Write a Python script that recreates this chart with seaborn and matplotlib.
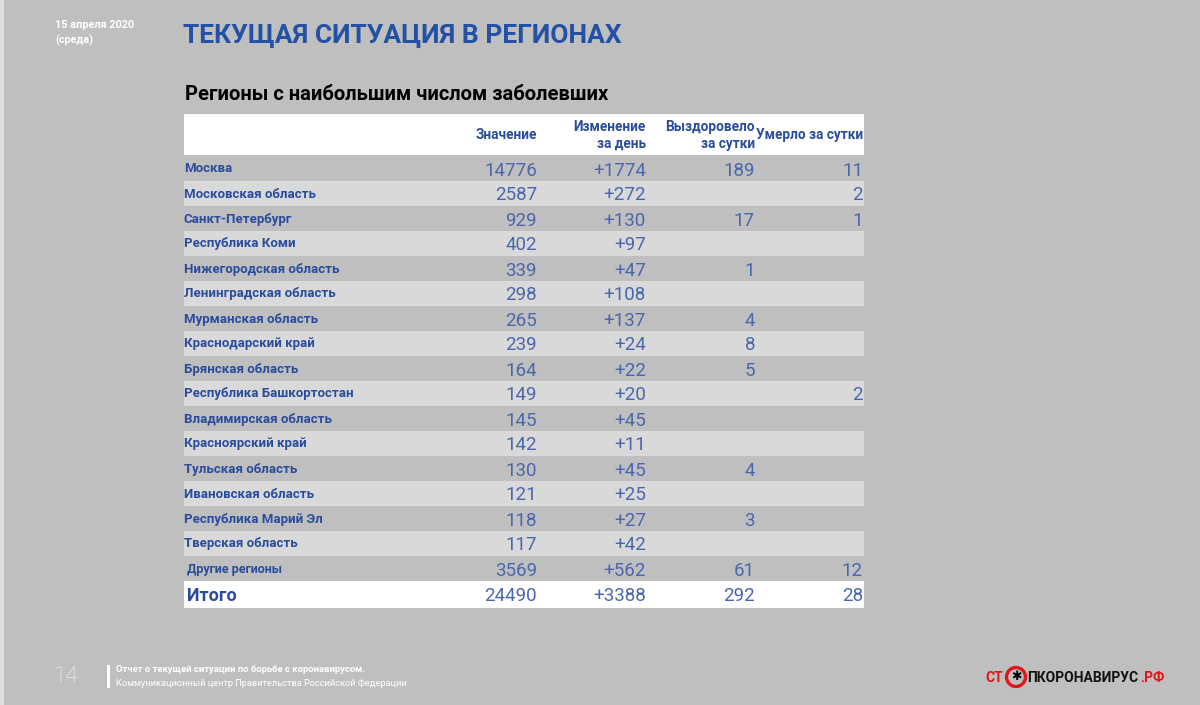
import numpy as np
import pandas as pd
import matplotlib
matplotlib.use("Agg")
import matplotlib.pyplot as plt
from matplotlib.colors import ListedColormap
from matplotlib.patches import Rectangle, Ellipse
import matplotlib.transforms as mtransforms
import seaborn as sns

sns.set_theme(style="white")
plt.rcParams['font.family'] = ['Roboto', 'DejaVu Sans']

regions = ["Москва", "Московская область", "Санкт-Петербург", "Республика Коми",
           "Нижегородская область", "Ленинградская область", "Мурманская область",
           "Краснодарский край", "Брянская область", "Республика Башкортостан",
           "Владимирская область", "Красноярский край", "Тульская область",
           "Ивановская область", "Республика Марий Эл", "Тверская область",
           "Другие регионы"]
values = [14776, 2587, 929, 402, 339, 298, 265, 239, 164, 149, 145, 142, 130, 121, 118, 117, 3569]
changes = [1774, 272, 130, 97, 47, 108, 137, 24, 22, 20, 45, 11, 45, 25, 27, 42, 562]
recovered = [189, None, 17, None, 1, None, 4, 8, 5, None, None, None, 4, None, 3, None, 61]
deaths = [11, 2, 1, None, None, None, None, None, None, 2, None, None, None, None, None, None, 12]
total_label = "Итого"
total = [24490, 3388, 292, 28]
headers = ["Значение", "Изменение\nза день", "Выздоровело\nза сутки", "Умерло за сутки"]

BG = "#bfbfbf"
LIGHT = "#d9d9d9"
LBL = "#2a4c9c"
NUM = "#4a67ad"
TITLE = "#2351a5"

W, H = 1200, 705
fig = plt.figure(figsize=(W / 100, H / 100), dpi=100, facecolor=BG)

def fx(px):
    return px / W

def fy(py):
    return 1 - py / H

# left edge strip
fig.patches.append(Rectangle((0, 0), fx(4), 1, transform=fig.transFigure,
                             facecolor="#dedede", edgecolor="none", zorder=0))

# titles
fig.text(fx(55), fy(25), "15 апреля 2020", color="white", fontsize=7.8, fontweight="bold", va="center")
fig.text(fx(55), fy(40), "(среда)", color="white", fontsize=7.8, fontweight="bold", va="center")
fig.text(fx(183), fy(36), "ТЕКУЩАЯ СИТУАЦИЯ В РЕГИОНАХ", color=TITLE, fontsize=19,
         fontweight="bold", va="center")
fig.text(fx(185), fy(95), "Регионы с наибольшим числом заболевших", color="black",
         fontsize=14.5, fontweight="bold", va="center")

TL, TR = 184, 864
col_right = [537, 646, 755, 863]
col_frac = [(c - TL) / (TR - TL) for c in col_right]

# header
axh = fig.add_axes([fx(TL), fy(155), fx(TR - TL), (155 - 114) / H])
axh.set_facecolor("white")
axh.set_xticks([]); axh.set_yticks([])
for s in axh.spines.values():
    s.set_visible(False)
axh.set_xlim(0, 1); axh.set_ylim(0, 1)
for h, c in zip(headers, col_frac):
    axh.text(c, 0.48, h, ha="right", va="center", color=LBL, fontsize=9.8,
             fontweight="bold", linespacing=1.25)

# body via heatmap
shade = pd.DataFrame({"s": [i % 2 for i in range(len(regions))]}, index=regions)
axb = fig.add_axes([fx(TL), fy(581), fx(TR - TL), (581 - 156) / H])
sns.heatmap(shade, ax=axb, cmap=ListedColormap([BG, LIGHT]), cbar=False,
            linewidths=0, xticklabels=False, yticklabels=False, vmin=0, vmax=1)
trans = mtransforms.blended_transform_factory(axb.transAxes, axb.transData)

def fmt(v, plus=False):
    if v is None:
        return ""
    return ("+" if plus else "") + str(v)

for i, r in enumerate(regions):
    y = i + 0.5
    small = (r == "Другие регионы")
    axb.text(0.004 if small else 0.0, y + 0.02, r, transform=trans, ha="left", va="center",
             color=LBL, fontsize=9 if small else 9.5, fontweight="bold")
    cols = [fmt(values[i]), fmt(changes[i], True), fmt(recovered[i]), fmt(deaths[i])]
    for t, c in zip(cols, col_frac):
        if t:
            axb.text(c, y + 0.08, t, transform=trans, ha="right", va="center",
                     color=NUM, fontsize=13.5, fontweight="normal")

# total
axt = fig.add_axes([fx(TL), fy(608), fx(TR - TL), (608 - 581) / H])
axt.set_facecolor("white")
axt.set_xticks([]); axt.set_yticks([])
for s in axt.spines.values():
    s.set_visible(False)
axt.set_xlim(0, 1); axt.set_ylim(0, 1)
axt.text(0.004, 0.45, total_label, ha="left", va="center", color=LBL, fontsize=13,
         fontweight="bold")
for j, (v, c) in enumerate(zip(total, col_frac)):
    axt.text(c, 0.45, fmt(v, plus=(j == 1)), ha="right", va="center", color=NUM,
             fontsize=13.5, fontweight="normal")

# footer
fig.text(fx(54), fy(677), "14", color="#f2f2f2", fontsize=16, fontweight="light", va="center")
fig.patches.append(Rectangle((fx(107), fy(688)), fx(3), (688 - 665) / H,
                             transform=fig.transFigure, facecolor="white", edgecolor="none"))
fig.text(fx(116), fy(670), "Отчет о текущей ситуации по борьбе с коронавирусом.", color="white",
         fontsize=6.8, fontweight="bold", va="center")
fig.text(fx(116), fy(683), "Коммуникационный центр Правительства Российской Федерации",
         color="white", fontsize=6.7, va="center")

# logo
fig.text(fx(985), fy(678), "СТ", color="#e0161b", fontsize=10, fontweight="bold", va="center")
fig.patches.append(Ellipse((fx(1016), fy(677)), fx(19), 19 / H, transform=fig.transFigure,
                           facecolor="none", edgecolor="#e0161b", linewidth=2.4))
fig.text(fx(1016), fy(677), "✱", color="black", fontsize=9, va="center", ha="center",
         family=["DejaVu Sans"])
fig.text(fx(1027), fy(678), "ПКОРОНАВИРУС", color="#111111", fontsize=10,
         fontweight="bold", va="center")
fig.text(fx(1140), fy(678), ".РФ", color="#e0161b", fontsize=10, fontweight="bold", va="center")

fig.savefig("out.png", dpi=100, facecolor=BG)
